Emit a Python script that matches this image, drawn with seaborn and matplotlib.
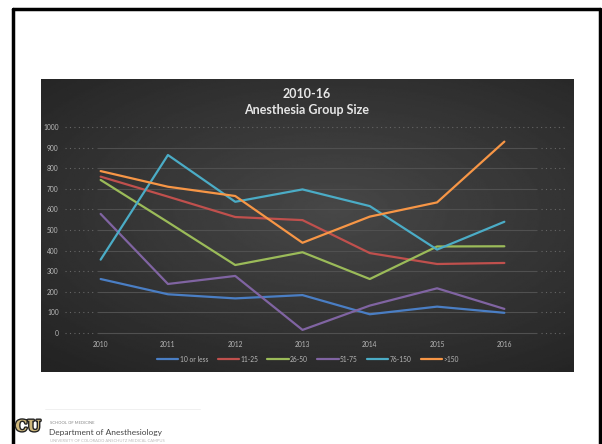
import matplotlib
matplotlib.use("Agg")
import matplotlib.pyplot as plt
import matplotlib.patheffects as pe
import numpy as np
import pandas as pd
import seaborn as sns

# data
years = [2010, 2011, 2012, 2013, 2014, 2015, 2016]
ten_or_less = [262, 188, 168, 184, 91, 128, 98]
g11_25 = [759, 662, 563, 548, 388, 335, 340]
g26_50 = [743, 538, 330, 392, 262, 420, 421]
g51_75 = [578, 238, 277, 15, 133, 217, 117]
g76_150 = [356, 864, 637, 697, 616, 405, 540]
g150_plus = [786, 710, 665, 438, 565, 634, 929]

groups = ["10 or less", "11-25", "26-50", "51-75", "76-150", ">150"]
series = [ten_or_less, g11_25, g26_50, g51_75, g76_150, g150_plus]
colors = ["#4a7ec4", "#c0504d", "#9bbb59", "#8064a2", "#4bacc6", "#f79646"]

df = pd.DataFrame({g: v for g, v in zip(groups, series)}, index=years)
df = df.reset_index().rename(columns={"index": "year"})
long = df.melt(id_vars="year", var_name="group", value_name="size")

sns.set_style("white")
plt.rcParams["font.family"] = ["Lato", "DejaVu Sans"]

W, H = 602, 444
fig = plt.figure(figsize=(W / 100, H / 100), dpi=100)
fig.patch.set_facecolor("white")

def fx(px):
    return px / W

def fy(py):
    return 1 - py / H

# slide border
for xs, ys in [([13, 13], [444, 9]), ([13, 600], [9, 9]), ([600, 600], [9, 444])]:
    fig.add_artist(plt.Line2D([fx(x) for x in xs], [fy(y) for y in ys],
                              color="black", lw=2.5, transform=fig.transFigure))

# dark chart panel with radial shading
bg = fig.add_axes([fx(41), fy(372), fx(574 - 41), (372 - 79) / H])
yy, xx = np.mgrid[0:1:200j, 0:1:300j]
r = np.sqrt(((xx - 0.55) / 0.9) ** 2 + ((yy - 0.45) / 0.8) ** 2)
shade = np.clip(0.28 - 0.16 * r, 0.14, 0.28)
bg.imshow(shade, cmap="gray", vmin=0, vmax=1, aspect="auto", extent=[0, 1, 0, 1])
bg.set_axis_off()

# plot axes
ax = fig.add_axes([fx(67), fy(333), fx(538 - 67), (333 - 127) / H])
ax.set_facecolor("none")
ax.set_xlim(2009.5, 2016.5)
ax.set_ylim(0, 1000)

# grid lines: faint solid inside, dotted stubs outside
for v in range(0, 1001, 100):
    if v == 1000:
        ax.hlines(v, 2009.47, 2016.9, colors="#666666", lw=0.8, linestyles=(0, (1, 3)), clip_on=False)
        continue
    ax.hlines(v, 2009.94, 2016.48, colors="#505050", lw=0.8, clip_on=False)
    ax.hlines(v, 2009.47, 2009.92, colors="#666666", lw=0.8, linestyles=(0, (1, 3)), clip_on=False)
    ax.hlines(v, 2016.54, 2016.9, colors="#666666", lw=0.8, linestyles=(0, (1, 3)), clip_on=False)

sns.lineplot(data=long, x="year", y="size", hue="group", hue_order=groups,
             palette=colors, linewidth=1.6, ax=ax, legend=False, clip_on=False)

ax.set_xticks(years)
ax.set_xticklabels([str(y) for y in years])
ax.set_yticks(range(0, 1001, 100))
ax.tick_params(colors="#b8b8b8", labelsize=4.8, length=0, pad=6)
ax.set_xlabel("")
ax.set_ylabel("")
for s in ax.spines.values():
    s.set_visible(False)

# title
title_fx = [pe.Normal()]
fig.text(fx(307), fy(94), "2010-16", ha="center", va="center",
         color="#e6e6e6", fontsize=9, fontweight="bold")
fig.text(fx(307), fy(110), "Anesthesia Group Size", ha="center", va="center",
         color="#e6e6e6", fontsize=9, fontweight="bold")

# legend
handles = [plt.Line2D([], [], color=c, lw=1.6) for c in colors]
fig.legend(handles, groups, loc="center", bbox_to_anchor=(fx(308), fy(359)),
           ncol=6, frameon=False, fontsize=4.8, labelcolor="#b8b8b8",
           handlelength=3.2, handletextpad=0.2, columnspacing=1.4)

# footer logo and department text
fig.text(fx(28), fy(427), "CU", ha="center", va="center", fontsize=11,
         fontweight="bold", family="DejaVu Serif", color="#cfb87c",
         path_effects=[pe.withStroke(linewidth=2, foreground="#222222")])
fig.text(fx(50), fy(423), "SCHOOL OF MEDICINE", ha="left", va="center",
         fontsize=3, color="#888888")
fig.text(fx(49), fy(432), "Department of Anesthesiology", ha="left", va="center",
         fontsize=6, color="#444444")
fig.text(fx(50), fy(441), "UNIVERSITY OF COLORADO ANSCHUTZ MEDICAL CAMPUS",
         ha="left", va="center", fontsize=3, color="#bbbbbb")
fig.add_artist(plt.Line2D([fx(45), fx(200)], [fy(409), fy(409)],
                          color="#eeeeee", lw=0.6, transform=fig.transFigure))

fig.savefig("out.png", dpi=100, facecolor="white")
